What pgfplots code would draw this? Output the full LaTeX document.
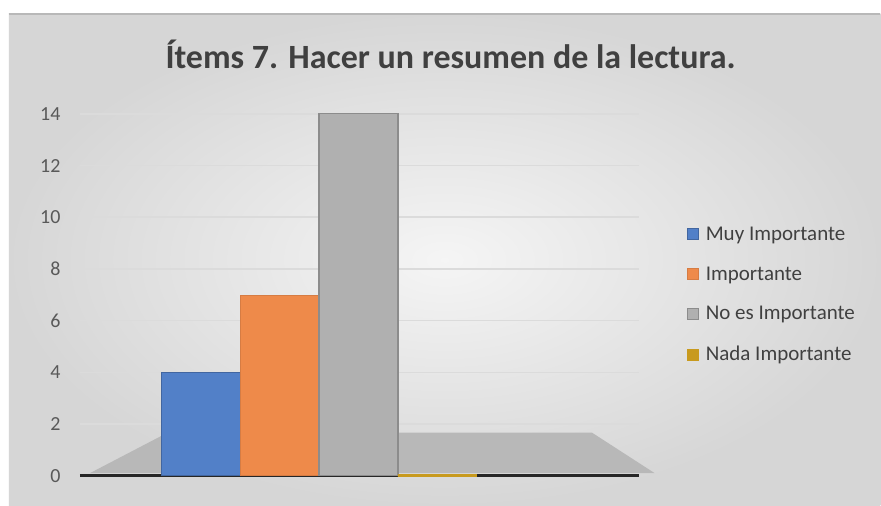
\documentclass[border=0pt]{standalone}
\usepackage{pgfplots}
\pgfplotsset{compat=1.18}
\usepackage{fontspec}
\setmainfont{Carlito}
\definecolor{cblue}{HTML}{5280C8}
\definecolor{corange}{HTML}{EE8A4A}
\definecolor{cgray}{HTML}{B0B0B0}
\definecolor{cyellow}{HTML}{C89A1E}
\definecolor{ctext}{HTML}{595959}
\definecolor{ctitle}{HTML}{404040}
\begin{document}
\begin{tikzpicture}[x=1pt,y=1pt]
% background of the chart area
\fill[white] (0,0) rectangle (881,506);
\shade[inner color=white!96!black, outer color=black!16] (9,0) rectangle (881,492);
\draw[black!28, line width=1.5pt] (9,492) -- (881,492);
\node[font=\fontsize{34}{38}\selectfont\bfseries, text=ctitle] at (451,452) {Ítems 7. Hacer un resumen de la lectura.};
\begin{axis}[
    at={(80pt,30pt)}, anchor=south west,
    scale only axis, width=560pt, height=362pt,
    xmin=-0.53, xmax=6.56, ymin=0, ymax=14,
    ytick={0,2,...,14}, xtick=\empty,
    axis x line*=bottom, axis y line*=left,
    x axis line style={black!85, line width=2.5pt, -},
    y axis line style={draw=none},
    major tick length=0pt,
    ymajorgrids, grid style={black!14, line width=1.5pt},
    yticklabel style={font=\fontsize{20}{22}\selectfont, text=ctext, xshift=-16pt},
    /pgf/number format/assume math mode=true,
    ybar, bar width=79pt, bar shift=0pt,
    clip=false,
    legend style={at={(1.08,0.70)}, anchor=north west, draw=none, fill=none,
        font=\fontsize{21}{23}\selectfont, text=ctitle, row sep=21pt,
        legend cell align=left},
    legend image code/.code={\draw[#1, line width=0.8pt] (0pt,-5.5pt) rectangle (11pt,5.5pt);
        \path[draw=none, fill=none] (11pt,0pt) -- (16pt,0pt);},
]
% floor (decoration)
\fill[black!28] (axis cs:-0.4,0.1) -- (axis cs:6.75,0.1) -- (axis cs:5.96,1.66) -- (axis cs:0.58,1.66) -- cycle;
\addplot[fill=cblue, draw=cblue!80!black] coordinates {(1,4)};
\addplot[fill=corange, draw=corange!90!black] coordinates {(2,7)};
\addplot[fill=cgray, draw=black!45, line width=1.2pt] coordinates {(3,14)};
\addplot[fill=cyellow, draw=cyellow, line width=3pt] coordinates {(4,0)};
\legend{Muy Importante, Importante, No es Importante, Nada Importante}
\end{axis}
\end{tikzpicture}
\end{document}
